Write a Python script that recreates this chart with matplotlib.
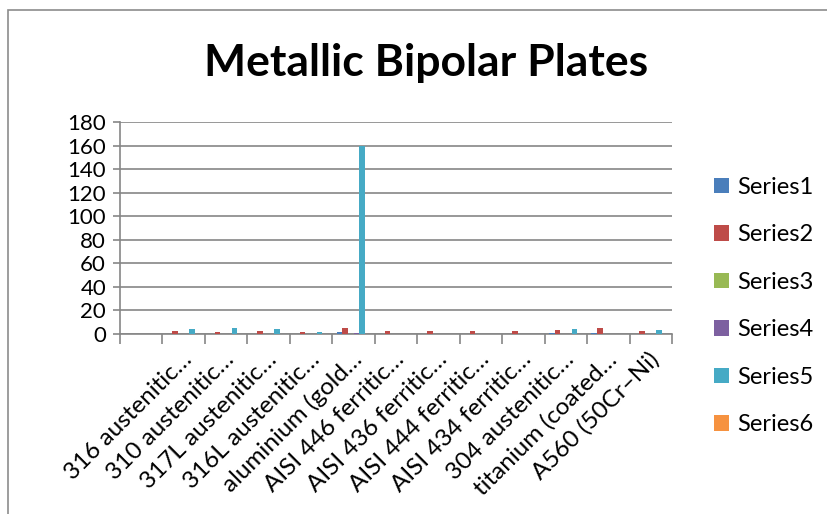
import matplotlib.pyplot as plt
from matplotlib.patches import Rectangle
from matplotlib.transforms import ScaledTranslation
import numpy as np

plt.rcParams['font.family'] = ['Lato', 'DejaVu Sans']

categories = ["", "316 austenitic…", "310 austenitic…", "317L austenitic…", "316L austenitic…",
              "aluminium (gold…", "AISI 446 ferritic…", "AISI 436 ferritic…", "AISI 444 ferritic…",
              "AISI 434 ferritic…", "304 austenitic…", "titanium (coated…", "A560 (50Cr–Ni)"]
series1 = [0, 0, 0, 0, 0, 1.5, 0, 0, 0, 0, 0.5, 1.2, 0]
series2 = [0, 2.2, 2.0, 2.8, 2.0, 4.8, 2.6, 2.6, 2.2, 2.6, 3.4, 5.0, 2.6]
series3 = [0, 0, 0, 0, 0, 0, 0, 0, 0, 0, 0, 0, 0]
series4 = [0, 0, 0, 0, 0, 1.0, 0, 0, 0, 0, 0, 0, 0]
series5 = [0, 4.2, 4.8, 4.5, 1.5, 160, 0, 0, 0, 0, 4.5, 0, 3.5]
series6 = [0, 0, 0, 0, 0, 0, 0, 0, 0, 0, 0, 0, 0]
series_names = ["Series1", "Series2", "Series3", "Series4", "Series5", "Series6"]
colors = ["#4A7EBB", "#BE4B48", "#98B954", "#7D60A0", "#46AAC5", "#F69240"]

all_series = [series1, series2, series3, series4, series5, series6]

fig = plt.figure(figsize=(8.28, 5.14), dpi=100)
ax = fig.add_axes([120/828, 1-334/514, 552/828, 212/514])

x = np.arange(len(categories))
w = 1/7.5
handles = []
for i, (vals, c, name) in enumerate(zip(all_series, colors, series_names)):
    pos = x - 0.5 + 0.75*w + (i + 0.5)*w
    h = ax.bar(pos, vals, width=w, color=c, label=name, zorder=3)
    handles.append(h)

grey = "#868686"
ax.set_xlim(-0.5, len(categories) - 0.5)
ax.set_ylim(0, 180)
ax.set_yticks(np.arange(0, 181, 20))
ax.yaxis.grid(True, color=grey, linewidth=1.2, zorder=0)
ax.tick_params(axis='y', length=5, width=1.2, color=grey, labelsize=16, pad=5)

ax.set_xticks(x)
ax.set_xticklabels(categories, rotation=45, ha='right', va='center', rotation_mode='anchor', fontsize=17.5)
ax.tick_params(axis='x', which='major', length=0, pad=16)
shift = ScaledTranslation(5/100, 0, fig.dpi_scale_trans)
for lab in ax.get_xticklabels():
    lab.set_transform(lab.get_transform() + shift)
ax.set_xticks(np.arange(-0.5, len(categories), 1), minor=True)
ax.tick_params(axis='x', which='minor', length=7, width=1.2, color=grey)

for s in ['top', 'right']:
    ax.spines[s].set_visible(False)
for s in ['left', 'bottom']:
    ax.spines[s].set_color(grey)
    ax.spines[s].set_linewidth(1.2)

fig.text(426/828, 1-63/514, "Metallic Bipolar Plates", ha='center', va='center',
         fontsize=32, fontweight='bold')

leg = fig.legend(handles=handles, loc='center left', bbox_to_anchor=(693/828, 1-306/514),
                 frameon=False, fontsize=17, handlelength=0.64, handleheight=0.64,
                 handletextpad=0.35, labelspacing=1.12)

fig.patches.append(Rectangle((8/828, -0.1), 1.2, 1-10/514+0.1, transform=fig.transFigure,
                             fill=False, edgecolor="#8c8c8c", linewidth=1.2))

fig.savefig("out.png", dpi=100)
